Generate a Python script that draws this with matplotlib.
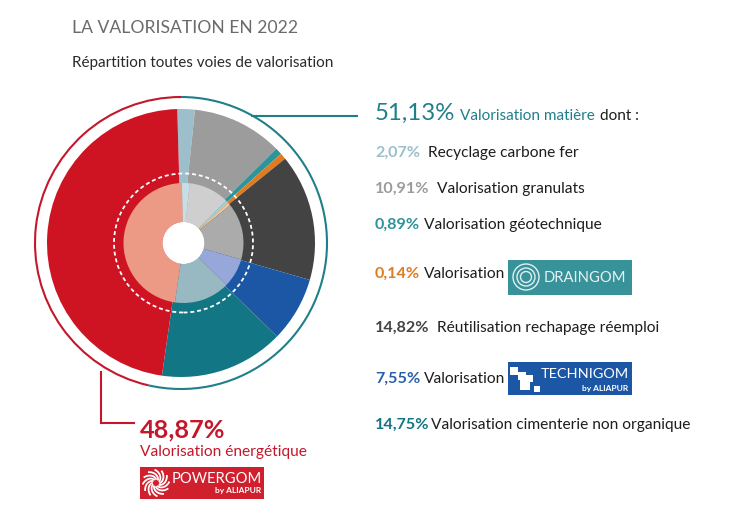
import numpy as np
import matplotlib
matplotlib.use("Agg")
import matplotlib.pyplot as plt
from matplotlib.patches import Arc, Rectangle, Circle

plt.rcParams['font.family'] = ['Lato', 'DejaVu Sans']

pct_labels = ["2,07%", "10,91%", "0,89%", "0,14%", "14,82%", "7,55%", "14,75%", "48,87%"]
labels = ["Recyclage carbone fer", "Valorisation granulats", "Valorisation géotechnique",
          "Valorisation", "Réutilisation rechapage réemploi", "Valorisation",
          "Valorisation cimenterie non organique", "Valorisation énergétique"]
# Shares of the ring as drawn in the picture (they differ a little from the printed percentages)
drawn_shares = [2.11, 10.92, 0.83, 0.75, 15.28, 7.83, 15.00, 47.28]
outer_colors = ["#9dbfcc", "#9d9c9c", "#2f939c", "#e07b1f", "#444343", "#1c57a5", "#127684", "#ce1323"]
inner_colors = ["#c8dde5", "#cfcfcf", "#a8cdd2", "#efc59b", "#ababab", "#98a7da", "#98b9c2", "#ec9a85"]
label_colors = ["#9dbfcc", "#9d9c9c", "#2f939c", "#e07b1f", "#444343", "#2a5ea8", "#127684"]
label_xs = [428, 437, 424, 424, 437, 424, 431]
label_ys = [153, 189, 225, 274, 328, 379, 425]

W, H = 737, 512
fig = plt.figure(figsize=(W / 100, H / 100), dpi=100)
ax = fig.add_axes([0, 0, 1, 1])
def Y(y):
    return H - y

CX, CY = 181, Y(243)
START = 91.6
ax.pie(drawn_shares, colors=outer_colors, radius=134, center=(CX, CY), startangle=START, counterclock=False,
       wedgeprops=dict(linewidth=0), frame=True)
ax.pie(drawn_shares, colors=inner_colors, radius=60, center=(CX + 2.5, CY), startangle=START, counterclock=False,
       wedgeprops=dict(width=39, linewidth=0), frame=True)
ax.add_patch(Circle((CX + 2.5, CY), 21, fc="white", ec="none", zorder=3))
ax.add_patch(Circle((CX + 2.5, CY), 69.5, fc="none", ec="white", lw=1.3, ls=(0, (2.2, 1.6)), zorder=3))

TEAL = "#1f7f8a"
RED = "#c5172b"
ax.add_patch(Arc((CX, CY), 292, 292, theta1=-103, theta2=90, ec=TEAL, lw=1.5, zorder=4))
ax.add_patch(Arc((CX, CY), 292, 292, theta1=90, theta2=257, ec=RED, lw=1.5, zorder=4))
ax.plot([251, 358], [Y(116), Y(116)], color=TEAL, lw=1.5, solid_capstyle="butt")
ax.plot([101, 101, 134], [Y(372), Y(423), Y(423)], color=RED, lw=1.5, solid_joinstyle="miter")

ax.set_xlim(0, W)
ax.set_ylim(0, H)
ax.set_aspect("equal")
ax.axis("off")

def T(x, y, s, size, color="#1d1d1b", weight="normal", **kw):
    return ax.text(x, Y(y), s, fontsize=size, color=color, fontweight=weight, va="center", ha="left", **kw)

T(72, 28, "LA VALORISATION EN 2022", 12.6, "#6b6b6b")
T(72, 63, "Répartition toutes voies de valorisation", 11, "#2a2a2a")

T(375, 113, "51,13%", 17.3, TEAL)
T(460, 116, "Valorisation matière", 11, TEAL)
T(600, 116, "dont :", 11)

for pct, lab, col, lx, ly in zip(pct_labels, labels, label_colors, label_xs, label_ys):
    T(375, ly, pct, 11.6, col, "bold")
    T(lx, ly, lab, 11.2)

T(140, 430, pct_labels[-1], 18.2, RED, "bold")
T(140, 452, labels[-1], 11.2, RED)

# DRAINGOM badge
ax.add_patch(Rectangle((508, Y(295)), 124, 35, fc="#38929a", ec="none"))
for r in [13, 9, 5.5]:
    ax.add_patch(Circle((526, Y(277)), r, fc="none", ec="#dff0f0", lw=1.0))
T(544, 278, "DRAINGOM", 10.6, "#e6f3f3")

# TECHNIGOM badge
ax.add_patch(Rectangle((508, Y(395)), 124, 33, fc="#1c57a5", ec="none"))
for x, y, s in [(510, 367, 8), (518, 372, 8), (526, 375, 7), (520, 380, 10), (534, 386, 6)]:
    ax.add_patch(Rectangle((x, Y(y + s)), s, s, fc="white", ec="none"))
T(541, 374, "TECHNIGOM", 10.4, "white")
ax.text(628, Y(388), "by ALIAPUR", fontsize=6, color="white", fontweight="bold", ha="right", va="center")

# POWERGOM badge
ax.add_patch(Rectangle((140, Y(499)), 124, 32, fc="#d0202e", ec="none"))
t = np.linspace(0, 1, 20)
for a in np.radians(np.arange(0, 360, 30)):
    r = 4 + 9 * t
    ang = a + 1.1 * t
    ax.plot(156 + r * np.cos(ang), Y(483) + r * np.sin(ang), color="white", lw=1.3)
T(172, 479, "POWERGOM", 10.6, "white")
ax.text(261, Y(491), "by ALIAPUR", fontsize=6, color="white", fontweight="bold", ha="right", va="center")

fig.savefig("out.png", dpi=100, facecolor="white")
